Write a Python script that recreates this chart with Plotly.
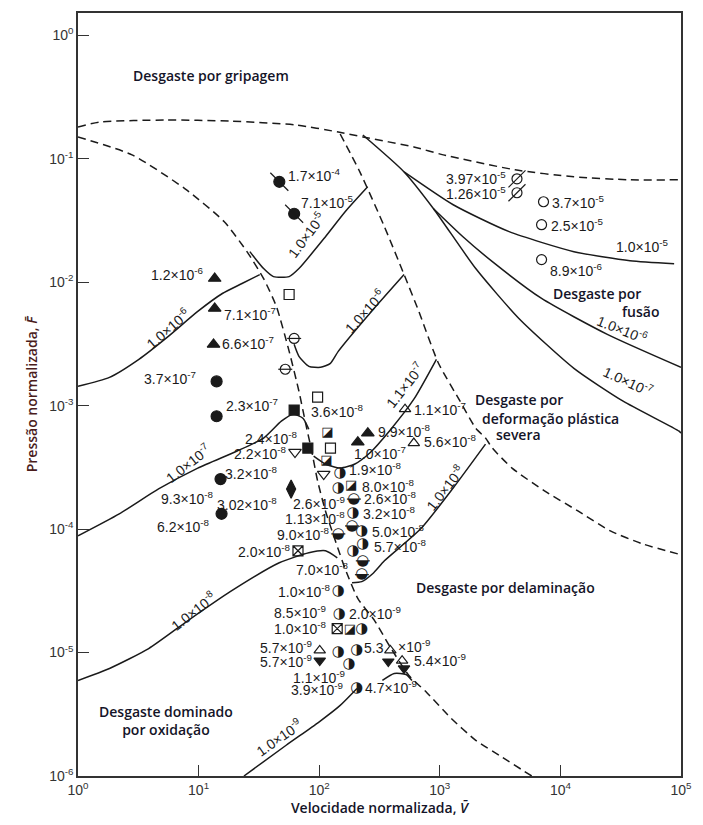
import numpy as np
import plotly.graph_objects as go

# ---------------------------------------------------------------
# Regime boundaries (dashed), digitised as log10(V), log10(F)
# ---------------------------------------------------------------
seizure_logv = [0.0, 0.179, 0.725, 1.262, 1.808, 2.158, 2.362, 2.785, 3.029, 3.624, 4.112, 4.577, 5.0]
seizure_logf = [-0.743, -0.703, -0.687, -0.695, -0.727, -0.784, -0.824, -0.905, -0.969, -1.090, -1.147, -1.171, -1.171]

mild_logv = [0.0, 0.448, 0.888, 1.213, 1.401, 1.539, 1.645, 1.751, 1.832, 1.889, 1.938, 1.987,
             2.052, 2.134, 2.215, 2.321, 2.459, 2.581, 2.744, 2.891, 3.086, 3.298, 3.518, 3.762]
mild_logf = [-0.824, -0.969, -1.244, -1.511, -1.753, -1.971, -2.197, -2.561, -2.884, -3.150, -3.368, -3.611,
             -3.853, -4.095, -4.321, -4.564, -4.741, -4.943, -5.186, -5.323, -5.525, -5.711, -5.848, -6.0]

severe_logv = [2.174, 2.337, 2.541, 2.704, 2.826, 2.989, 3.168, 3.298, 3.379, 3.436, 3.599, 3.868,
               4.145, 4.414, 4.682, 5.0]
severe_logf = [-0.800, -1.107, -1.551, -1.939, -2.237, -2.657, -2.964, -3.183, -3.263, -3.344, -3.506, -3.691,
               -3.853, -4.015, -4.120, -4.208]

# ---------------------------------------------------------------
# Wear-rate contours (solid)
# ---------------------------------------------------------------
c5_left_logv = [1.425, 1.539, 1.621, 1.751, 1.832, 2.052, 2.215, 2.402]
c5_left_logf = [-1.753, -1.890, -1.955, -1.955, -1.890, -1.632, -1.430, -1.228]

c6_left_logv = [0.0, 0.261, 0.505, 0.749, 0.993, 1.197, 1.360, 1.507]
c6_left_logf = [-2.843, -2.771, -2.625, -2.439, -2.237, -2.092, -2.011, -1.939]

c6_mid_logv = [1.792, 1.832, 1.914, 2.011, 2.093, 2.158, 2.419, 2.704]
c6_mid_logf = [-2.504, -2.601, -2.682, -2.690, -2.658, -2.561, -2.254, -1.939]

c7_left_logv = [0.0, 0.342, 0.668, 0.993, 1.319, 1.539, 1.686, 1.783, 1.865, 1.914]
c7_left_logf = [-4.055, -3.877, -3.675, -3.506, -3.368, -3.263, -3.126, -3.069, -3.102, -3.191]

c11_logv = [1.954, 2.052, 2.174, 2.296, 2.419, 2.581, 2.785, 2.972]
c11_logf = [-3.409, -3.473, -3.506, -3.473, -3.384, -3.207, -2.948, -2.625]

c8_left_logv = [0.0, 0.261, 0.586, 0.912, 1.262, 1.669, 1.914, 2.052, 2.150]
c8_left_logf = [-5.226, -5.129, -4.968, -4.741, -4.507, -4.273, -4.192, -4.176, -4.233]

c8_right_logv = [2.272, 2.353, 2.443, 2.541, 2.842, 3.111, 3.379]
c8_right_logf = [-4.435, -4.426, -4.362, -4.257, -3.998, -3.667, -3.312]

c9_logv = [1.376, 1.726, 1.995, 2.174, 2.313]
c9_logf = [-6.0, -5.751, -5.565, -5.428, -5.291]

c9_arc_logv = [2.524, 2.622, 2.720, 2.769]
c9_arc_logf = [-5.226, -5.170, -5.178, -5.226]

c7_melt_logv = [2.362, 2.704, 2.948, 3.298, 3.656, 4.112, 4.520, 4.984, 5.0]
c7_melt_logf = [-0.808, -1.107, -1.405, -1.890, -2.294, -2.698, -2.964, -3.207, -3.223]

c6_melt_logv = [2.948, 3.192, 3.436, 3.844, 4.389, 5.0]
c6_melt_logf = [-1.405, -1.632, -1.834, -2.132, -2.423, -2.690]

c5_melt_logv = [2.704, 3.111, 3.575, 4.112, 4.577, 4.943]
c5_melt_logf = [-1.107, -1.373, -1.591, -1.753, -1.826, -1.850]

# ---------------------------------------------------------------
# Experimental points (V, F)
# ---------------------------------------------------------------
slashed_dot_v = [46.7, 62]
slashed_dot_f = [0.065, 0.0358]

tri_up_v = [13.6, 13.6, 13.3, 209, 253]
tri_up_f = [0.0107, 0.00612, 0.00313, 0.000506, 0.000598]

dot_v = [14.1, 14.1, 15.2, 15.5]
dot_f = [0.00157, 0.00082, 0.000254, 0.000133]

open_sq_v = [56.3, 97, 124]
open_sq_f = [0.00794, 0.00117, 0.000453]

barred_v = [62, 52.3]
barred_f = [0.0035, 0.00197]

sq_v = [62, 80.5]
sq_f = [0.00092, 0.000453]

open_tri_down_v = [63, 109]
open_tri_down_f = [0.00042, 0.000279]

half_sq_v = [117, 115, 184, 180]
half_sq_f = [0.000598, 0.000356, 0.000223, 0.0000153]

diamond_v = [58.5]
diamond_f = [0.000211]

half_dot_v = [149, 144, 191, 226, 230, 191, 144, 147, 226, 144, 205, 177, 205]
half_dot_f = [0.000284, 0.000215, 0.000135, 0.0000967, 0.0000759, 0.0000667, 0.0000311,
              0.0000203, 0.0000153, 0.00001, 0.0000104, 0.000008, 0.00000512]

low_half_dot_v = [194, 187, 144, 230, 226]
low_half_dot_f = [0.000175, 0.000106, 0.0000914, 0.0000553, 0.0000427]

cross_sq_v = [66.7, 141]
cross_sq_f = [0.0000667, 0.0000156]

open_tri_up_v = [101, 389, 487, 515, 609]
open_tri_up_f = [0.0000104, 0.0000104, 0.0000086, 0.000935, 0.000497]

tri_down_v = [101, 374, 505]
tri_down_f = [0.0000086, 0.00000846, 0.00000743]

slashed_ring_v = [4365, 4365]
slashed_ring_f = [0.0687, 0.053]

ring_v = [7244, 6980, 6980]
ring_f = [0.0448, 0.0292, 0.01523]

# wear-rate labels of the points: text, log10 V, log10 F, anchor
point_labels = [
    ("1.7×10<sup>-4</sup>", 1.726, -1.131, "left"),
    ("7.1×10<sup>-5</sup>", 1.832, -1.349, "left"),
    ("1.2×10<sup>-6</sup>", 1.050, -1.931, "right"),
    ("7.1×10<sup>-7</sup>", 1.197, -2.254, "left"),
    ("6.6×10<sup>-7</sup>", 1.181, -2.496, "left"),
    ("3.7×10<sup>-7</sup>", 0.993, -2.779, "right"),
    ("2.3×10<sup>-7</sup>", 1.213, -2.997, "left"),
    ("3.6×10<sup>-8</sup>", 1.914, -3.045, "left"),
    ("2.4×10<sup>-8</sup>", 1.832, -3.263, "right"),
    ("2.2×10<sup>-8</sup>", 1.743, -3.384, "right"),
    ("3.2×10<sup>-8</sup>", 1.669, -3.546, "right"),
    ("9.3×10<sup>-8</sup>", 1.132, -3.748, "right"),
    ("3.02×10<sup>-8</sup>", 1.140, -3.796, "left"),
    ("6.2×10<sup>-8</sup>", 1.099, -3.974, "right"),
    ("1.9×10<sup>-8</sup>", 2.231, -3.514, "left"),
    ("8.0×10<sup>-8</sup>", 2.337, -3.651, "left"),
    ("2.6×10<sup>-9</sup>", 2.231, -3.788, "right"),
    ("2.6×10<sup>-8</sup>", 2.353, -3.748, "left"),
    ("1.13×10<sup>-8</sup>", 2.231, -3.910, "right"),
    ("3.2×10<sup>-8</sup>", 2.345, -3.869, "left"),
    ("5.0×10<sup>-8</sup>", 2.419, -4.015, "left"),
    ("9.0×10<sup>-8</sup>", 2.101, -4.039, "right"),
    ("5.7×10<sup>-8</sup>", 2.435, -4.136, "left"),
    ("2.0×10<sup>-8</sup>", 1.775, -4.176, "right"),
    ("7.0×10<sup>-8</sup>", 2.256, -4.321, "right"),
    ("1.0×10<sup>-8</sup>", 2.109, -4.499, "right"),
    ("8.5×10<sup>-9</sup>", 2.077, -4.669, "right"),
    ("2.0×10<sup>-9</sup>", 2.231, -4.677, "left"),
    ("1.0×10<sup>-8</sup>", 2.077, -4.798, "right"),
    ("5.7×10<sup>-9</sup>", 1.954, -4.952, "right"),
    ("5.7×10<sup>-9</sup>", 1.954, -5.065, "right"),
    ("5.3", 2.353, -4.960, "left"),
    ("×10<sup>-9</sup>", 2.638, -4.943, "left"),
    ("5.4×10<sup>-9</sup>", 2.769, -5.057, "left"),
    ("1.1×10<sup>-9</sup>", 2.231, -5.202, "right"),
    ("3.9×10<sup>-9</sup>", 2.215, -5.299, "right"),
    ("4.7×10<sup>-9</sup>", 2.362, -5.283, "left"),
    ("9.9×10<sup>-8</sup>", 2.467, -3.207, "left"),
    ("1.0×10<sup>-7</sup>", 2.272, -3.384, "left"),
    ("1.1×10<sup>-7</sup>", 2.769, -3.029, "left"),
    ("5.6×10<sup>-8</sup>", 2.850, -3.288, "left"),
    ("3.97×10<sup>-5</sup>", 3.567, -1.155, "right"),
    ("1.26×10<sup>-5</sup>", 3.567, -1.276, "right"),
    ("3.7×10<sup>-5</sup>", 3.917, -1.349, "left"),
    ("2.5×10<sup>-5</sup>", 3.909, -1.535, "left"),
    ("8.9×10<sup>-6</sup>", 3.901, -1.898, "left"),
]

# contour labels: text, log10 V, log10 F, angle
contour_labels = [
    ("1.0×10<sup>-5</sup>", 1.889, -1.616, -53),
    ("1.0×10<sup>-6</sup>", 0.749, -2.375, -41),
    ("1.0×10<sup>-6</sup>", 2.378, -2.237, -48),
    ("1.0×10<sup>-7</sup>", 0.912, -3.465, -38),
    ("1.1×10<sup>-7</sup>", 2.710, -2.835, -52),
    ("1.0×10<sup>-8</sup>", 3.040, -3.667, -52),
    ("1.0×10<sup>-8</sup>", 0.953, -4.661, -38),
    ("1.0×10<sup>-9</sup>", 1.669, -5.687, -35),
    ("1.0×10<sup>-5</sup>", 4.674, -1.704, 0),
    ("1.0×10<sup>-6</sup>", 4.511, -2.383, 22),
    ("1.0×10<sup>-7</sup>", 4.560, -2.803, 25),
]

# regime names: text, log10 V, log10 F, anchor
regime_labels = [
    ("Desgaste por gripagem", 1.099, -0.323, "center"),
    ("Desgaste por", 3.925, -2.092, "left"),
    ("fusão", 4.495, -2.237, "left"),
    ("Desgaste por", 3.274, -2.948, "left"),
    ("deformação plástica", 3.331, -3.102, "left"),
    ("severa", 3.453, -3.231, "left"),
    ("Desgaste por delaminação", 3.542, -4.475, "center"),
    ("Desgaste dominado<br>por oxidação", 0.733, -5.549, "center"),
]

INK = "#1a1a1a"
fig = go.Figure()


def curve(lv, lf, dashed=False):
    fig.add_trace(go.Scatter(
        x=10 ** np.array(lv), y=10 ** np.array(lf), mode="lines",
        line=dict(color=INK, width=1.5, dash="8px,5px" if dashed else "solid",
                  shape="spline", smoothing=0.6),
        hoverinfo="skip", showlegend=False))


for lv, lf in [(seizure_logv, seizure_logf), (mild_logv, mild_logf), (severe_logv, severe_logf)]:
    curve(lv, lf, dashed=True)

for lv, lf in [(c5_left_logv, c5_left_logf), (c6_left_logv, c6_left_logf), (c6_mid_logv, c6_mid_logf),
               (c7_left_logv, c7_left_logf), (c11_logv, c11_logf), (c8_left_logv, c8_left_logf),
               (c8_right_logv, c8_right_logf), (c9_logv, c9_logf), (c9_arc_logv, c9_arc_logf),
               (c7_melt_logv, c7_melt_logf), (c6_melt_logv, c6_melt_logf), (c5_melt_logv, c5_melt_logf)]:
    curve(lv, lf)


def markers(v, f, symbol, size=10, lw=1.2):
    fig.add_trace(go.Scatter(
        x=v, y=f, mode="markers",
        marker=dict(symbol=symbol, size=size, color=INK, line=dict(color=INK, width=lw)),
        hoverinfo="skip", showlegend=False))


def glyphs(v, f, glyph, size=15):
    fig.add_trace(go.Scatter(
        x=v, y=f, mode="text", text=[glyph] * len(v), textposition="middle center",
        textfont=dict(family="DejaVu Sans", size=size, color=INK),
        hoverinfo="skip", showlegend=False))


markers(slashed_dot_v, slashed_dot_f, "circle", 11)
markers(slashed_dot_v, slashed_dot_f, "line-nw", 18)
markers(tri_up_v, tri_up_f, "triangle-up", 11)
markers(dot_v, dot_f, "circle", 11)
markers(open_sq_v, open_sq_f, "square-open", 10)
markers(barred_v, barred_f, "circle-open", 10)
markers(barred_v, barred_f, "line-ew", 10)
markers(sq_v, sq_f, "square", 10)
markers(open_tri_down_v, open_tri_down_f, "triangle-down-open", 11)
glyphs(half_sq_v, half_sq_f, "◪", 13)
markers(diamond_v, diamond_f, "diamond-tall", 13)
glyphs(half_dot_v, half_dot_f, "◑", 15)
glyphs(low_half_dot_v, low_half_dot_f, "◒", 15)
markers(low_half_dot_v, low_half_dot_f, "line-ew", 10)
markers(cross_sq_v, cross_sq_f, "square-x-open", 10)
markers(open_tri_up_v, open_tri_up_f, "triangle-up-open", 10)
markers(tri_down_v, tri_down_f, "triangle-down", 10)
markers(slashed_ring_v, slashed_ring_f, "circle-open", 10)
markers(slashed_ring_v, slashed_ring_f, "line-ne", 17)
markers(ring_v, ring_f, "circle-open", 10)

annotations = []
for text, lv, lf, anchor in point_labels:
    annotations.append(dict(x=lv, y=lf, xref="x", yref="y", text=text, showarrow=False,
                            xanchor=anchor, yanchor="middle",
                            font=dict(family="Liberation Sans", size=14, color=INK)))
for text, lv, lf, ang in contour_labels:
    annotations.append(dict(x=lv, y=lf, xref="x", yref="y", text=text, showarrow=False,
                            textangle=ang, xanchor="center", yanchor="middle",
                            font=dict(family="Liberation Sans", size=14, color=INK)))
for text, lv, lf, anchor in regime_labels:
    annotations.append(dict(x=lv, y=lf, xref="x", yref="y", text=text, showarrow=False,
                            xanchor=anchor, yanchor="middle", align="center",
                            font=dict(family="Open Sans", size=14, color="#141428", weight=600)))

x_ticks = [1, 10, 100, 1000, 10000, 100000]
x_text = ["10<sup>%d</sup>" % i for i in range(6)]
y_ticks = [1e-6, 1e-5, 1e-4, 1e-3, 1e-2, 1e-1, 1]
y_text = ["10<sup>%d</sup>" % i for i in range(-6, 1)]

fig.update_layout(
    width=703, height=825,
    margin=dict(l=78, r=11, t=11, b=49),
    paper_bgcolor="white", plot_bgcolor="white",
    annotations=annotations,
    font=dict(family="Liberation Sans", color="#333333"),
)
fig.update_xaxes(
    type="log", range=[0, 5], tickvals=x_ticks, ticktext=x_text,
    ticks="inside", ticklen=11, tickwidth=1.2, tickcolor="#333333",
    showline=True, linecolor="#333333", linewidth=1.5, mirror=True, showgrid=False, zeroline=False,
    tickfont=dict(size=14, color="#333333"),
    title=dict(text="Velocidade normalizada, <i>V̄</i>", standoff=5,
               font=dict(family="Open Sans", size=14, color="#141428", weight=600)),
)
fig.update_yaxes(
    type="log", range=[-6, 0.18], tickvals=y_ticks, ticktext=y_text,
    ticks="inside", ticklen=11, tickwidth=1.2, tickcolor="#333333",
    showline=True, linecolor="#333333", linewidth=1.5, mirror=True, showgrid=False, zeroline=False,
    tickfont=dict(size=14, color="#333333"),
    title=dict(text="Pressão normalizada, <i>F̄</i>", standoff=8,
               font=dict(family="Open Sans", size=14, color="#4a1c1c", weight=600)),
)

fig.write_html("out.html")
